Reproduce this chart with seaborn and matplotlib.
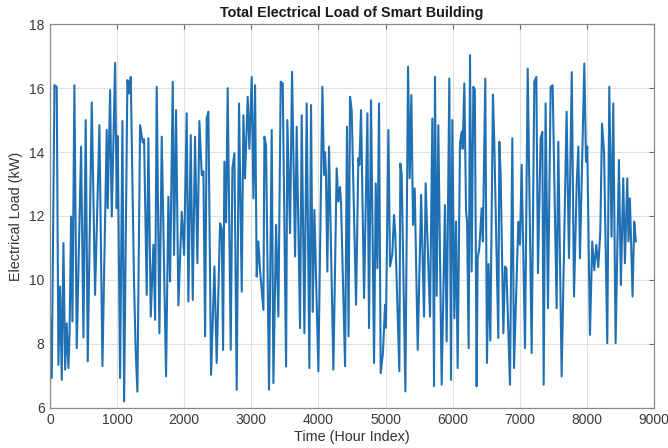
import matplotlib
matplotlib.use("Agg")
import matplotlib.pyplot as plt
import seaborn as sns
import pandas as pd

# Hourly load samples (hour index, kW)
hours = [
    0, 25, 65, 99, 124, 149, 174, 199, 224, 248, 273, 290, 313, 333, 362, 397,
    462, 497, 531, 561, 621, 670, 735, 780, 844, 859, 894, 919, 969, 993, 1008,
    1043, 1078, 1103, 1152, 1177, 1202, 1250, 1275, 1301, 1341, 1381, 1401,
    1440, 1465, 1500, 1540, 1565, 1589, 1629, 1664, 1728, 1763, 1788, 1828,
    1847, 1877, 1912, 1962, 1997, 2036, 2061, 2096, 2126, 2160, 2195, 2225,
    2260, 2285, 2310, 2334, 2359, 2399, 2449, 2483, 2533, 2558, 2578, 2598,
    2623, 2647, 2692, 2717, 2747, 2781, 2816, 2856, 2881, 2905, 2945, 2970,
    3005, 3030, 3055, 3079, 3104, 3129, 3179, 3194, 3218, 3263, 3303, 3328,
    3368, 3402, 3437, 3467, 3517, 3536, 3576, 3606, 3651, 3675, 3725, 3750,
    3790, 3824, 3864, 3889, 3914, 3939, 3998, 4058, 4083, 4097, 4112, 4132,
    4157, 4222, 4271, 4296, 4321, 4336, 4396, 4425, 4448, 4470, 4495, 4560,
    4594, 4610, 4634, 4679, 4729, 4753, 4783, 4828, 4853, 4878, 4902, 4927,
    4960, 4992, 5005, 5042, 5066, 5100, 5126, 5145, 5205, 5220, 5240, 5295,
    5335, 5359, 5384, 5409, 5434, 5479, 5530, 5573, 5597, 5662, 5697, 5722,
    5736, 5762, 5786, 5836, 5885, 5910, 5950, 5975, 5995, 6025, 6050, 6074,
    6109, 6134, 6149, 6174, 6199, 6215, 6238, 6258, 6283, 6308, 6330, 6357,
    6372, 6397, 6432, 6450, 6486, 6511, 6535, 6561, 6600, 6620, 6680, 6695,
    6715, 6755, 6780, 6800, 6854, 6889, 6914, 6978, 7003, 7028, 7078, 7118,
    7177, 7217, 7247, 7271, 7311, 7336, 7356, 7385, 7420, 7460, 7490, 7549,
    7574, 7624, 7698, 7733, 7775, 7808, 7848, 7873, 7897, 7962, 7987, 8006,
    8046, 8080, 8110, 8140, 8170, 8200, 8226, 8256, 8304, 8334, 8368, 8393,
    8428, 8478, 8507, 8542, 8567, 8602, 8620, 8641, 8681, 8706, 8730,
]
load_kw = [
    8.8, 6.93, 16.09, 16.04, 7.34, 9.79, 6.87, 11.15, 7.19, 8.64, 7.24, 8.3,
    11.98, 8.7, 16.09, 7.86, 14.17, 8.2, 15.0, 7.45, 15.55, 9.53, 14.84, 7.3,
    14.69, 12.24, 15.94, 11.98, 16.79, 12.24, 14.5, 6.93, 14.97, 6.2, 16.25,
    15.83, 16.35, 10.0, 7.8, 6.5, 14.84, 14.3, 14.4, 9.53, 14.43, 8.85, 11.1,
    8.75, 16.04, 8.33, 14.48, 6.98, 12.6, 9.95, 16.2, 10.78, 15.31, 9.2, 12.13,
    10.78, 15.21, 9.32, 14.53, 9.37, 14.48, 10.52, 14.97, 13.28, 13.4, 8.23,
    15.05, 15.26, 7.03, 10.42, 7.4, 11.77, 11.6, 7.81, 13.7, 11.8, 16.0, 7.81,
    13.49, 13.96, 6.56, 15.52, 9.63, 15.15, 13.18, 15.73, 14.1, 16.35, 12.55,
    16.09, 10.1, 11.2, 10.3, 9.06, 14.48, 14.2, 6.56, 14.69, 6.77, 11.72, 8.85,
    16.2, 16.15, 7.29, 15.0, 11.46, 16.51, 10.73, 14.79, 8.49, 15.15, 8.33,
    15.52, 7.24, 15.47, 9.0, 12.19, 7.14, 16.04, 13.28, 14.0, 13.3, 10.26,
    14.17, 7.19, 13.49, 12.45, 12.9, 12.4, 7.3, 14.79, 8.23, 15.73, 15.3, 9.22,
    13.8, 13.6, 15.31, 9.43, 15.21, 8.49, 15.62, 7.4, 13.02, 10.36, 15.52, 7.08,
    7.7, 9.22, 8.5, 14.69, 10.42, 10.8, 12.03, 11.4, 7.14, 13.64, 13.3, 6.51,
    16.67, 13.18, 15.78, 11.72, 12.86, 7.81, 12.66, 8.85, 13.02, 8.85, 15.05,
    6.67, 16.35, 9.5, 14.84, 6.72, 12.34, 8.07, 16.3, 6.87, 15.0, 8.8, 11.82,
    7.24, 14.27, 14.64, 14.1, 16.15, 12.19, 11.8, 7.86, 17.03, 10.26, 16.04,
    15.95, 6.67, 10.68, 11.0, 12.24, 11.2, 16.3, 7.4, 10.5, 8.1, 15.8, 14.3,
    8.18, 14.32, 13.3, 8.33, 10.42, 10.36, 6.72, 14.43, 7.24, 11.82, 11.1, 13.6,
    7.86, 16.61, 7.71, 16.2, 16.35, 10.21, 14.43, 14.63, 6.72, 15.52, 9.11,
    16.04, 16.09, 9.11, 14.32, 6.98, 15.26, 10.68, 16.5, 9.48, 12.97, 14.17,
    10.68, 16.77, 13.7, 14.17, 8.28, 11.2, 10.3, 11.1, 10.4, 11.5, 14.89, 14.0,
    8.02, 16.04, 11.35, 15.52, 8.02, 13.75, 9.84, 13.18, 10.52, 13.18, 11.2,
    12.55, 9.48, 11.82, 11.2,
]
x_ticks = [0, 1000, 2000, 3000, 4000, 5000, 6000, 7000, 8000, 9000]
y_ticks = [6, 8, 10, 12, 14, 16, 18]

df = pd.DataFrame({"Hour": hours, "Load": load_kw})

sns.set_theme(style="white")
plt.rcParams["font.family"] = ["Liberation Sans", "DejaVu Sans"]

fig = plt.figure(figsize=(6.68, 4.48), dpi=100)
ax = fig.add_axes([0.075, 0.09, 0.904, 0.856])

sns.lineplot(data=df, x="Hour", y="Load", ax=ax, color="#2070b4",
             linewidth=1.5, estimator=None, sort=False)

ax.set_xlim(0, 9000)
ax.set_ylim(6, 18)
ax.set_xticks(x_ticks)
ax.set_yticks(y_ticks)
ax.grid(True, color="#e0e0e0", linewidth=0.8)
ax.set_axisbelow(True)

for s in ax.spines.values():
    s.set_visible(True)
    s.set_color("#8a8a8a")
    s.set_linewidth(0.9)

ax.tick_params(axis="both", which="both", direction="in", length=3.5,
               width=0.8, color="#6a6a6a", labelcolor="#3a3a3a",
               labelsize=10, top=True, right=True, pad=4)

ax.set_xlabel("Time (Hour Index)", fontsize=10.4, color="#333333", labelpad=2)
ax.set_ylabel("Electrical Load (kW)", fontsize=10.4, color="#333333", labelpad=4)
ax.set_title("Total Electrical Load of Smart Building", fontsize=10.4,
             fontweight="bold", color="#1a1a1a", pad=5)

fig.savefig("out.png", dpi=100)
